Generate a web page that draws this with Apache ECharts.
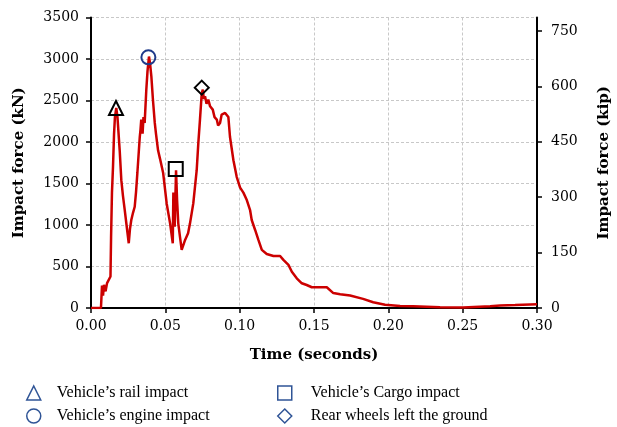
<!DOCTYPE html>
<html>
<head>
<meta charset="utf-8">
<script src="https://cdn.jsdelivr.net/npm/echarts@6/dist/echarts.min.js"></script>
<style>html,body{margin:0;padding:0;background:#fff}#c{width:617px;height:427px}</style>
</head>
<body>
<div id="c"></div>
<script>
// Time (s) and impact force (kN)
var timeS = [0,0.0067,0.0074,0.0081,0.0087,0.0098,0.0108,0.0121,0.0131,0.0135,0.0141,0.0148,0.0155,0.0161,0.0170,0.0178,0.0193,0.0204,0.0215,0.0227,0.0239,0.0254,0.0262,0.0271,0.0283,0.0294,0.0303,0.0312,0.0328,0.0333,0.0338,0.0347,0.0353,0.0361,0.0372,0.0380,0.0390,0.0397,0.0406,0.0417,0.0429,0.0437,0.0451,0.0464,0.0485,0.0509,0.0532,0.0550,0.0554,0.0563,0.0572,0.0579,0.0587,0.0599,0.0610,0.0633,0.0653,0.0666,0.0688,0.0711,0.0722,0.0733,0.0745,0.0752,0.0759,0.0767,0.0777,0.0789,0.0801,0.0819,0.0831,0.0846,0.0855,0.0868,0.0879,0.0902,0.0924,0.0935,0.0958,0.0980,0.1003,0.1025,0.1048,0.1070,0.1081,0.1104,0.1126,0.1149,0.1182,0.1227,0.1272,0.1294,0.1328,0.1351,0.1384,0.1418,0.1451,0.1485,0.1586,0.1630,0.1676,0.1743,0.1830,0.1898,0.1978,0.2079,0.2167,0.2348,0.2503,0.2685,0.2752,0.2853,0.2954,0.3000];
var forceKN = [0,0,270,150,280,200,300,320,380,850,1390,1700,2100,2300,2410,2300,1900,1540,1350,1180,1000,780,950,1060,1150,1220,1400,1630,2060,2150,2270,2100,2300,2230,2630,2850,3030,2950,2790,2500,2230,2100,1900,1800,1630,1260,1020,780,1390,980,1660,1300,1020,850,700,820,900,1020,1260,1660,1990,2270,2590,2630,2520,2550,2460,2510,2430,2390,2300,2270,2200,2230,2330,2350,2300,2060,1780,1580,1450,1390,1300,1180,1060,940,820,700,650,627,627,580,520,437,358,298,277,250,250,180,165,150,110,70,40,25,22,10,5,20,30,35,42,45];

// Event markers
var eventNames = ["Vehicle\u2019s rail impact","Vehicle\u2019s engine impact","Vehicle\u2019s Cargo impact","Rear wheels left the ground"];
var eventTimes = [0.0168,0.0386,0.0570,0.0745];
var eventForces = [2410,3020,1675,2655];
var eventSymbols = ["triangle","circle","rect","diamond"];
var eventColors = ["#000000","#1F3A8A","#000000","#000000"];

var xTicks = [0,0.05,0.10,0.15,0.20,0.25,0.30];
var kipTicks = [0,150,300,450,600,750];
var KN_TO_KIP = 0.224809;

var lineData = timeS.map(function(t,i){return [t, forceKN[i]];});
var serif = "DejaVu Serif";
var legendBlue = "#2F5496";

var series = [{
  type:'line', name:'force', data: lineData, showSymbol:false, symbol:'none',
  lineStyle:{color:'#CC0000', width:2.5}, z:2, animation:false
}];
eventNames.forEach(function(n,i){
  series.push({
    type:'scatter', name:n, data:[[eventTimes[i], eventForces[i]]],
    symbol: eventSymbols[i], symbolSize: 14,
    itemStyle:{color:'rgba(0,0,0,0)', borderColor: eventColors[i], borderWidth: 2, opacity:1},
    z:5, animation:false
  });
});

function legendItem(i){
  return {name:eventNames[i], icon:eventSymbols[i],
    itemStyle:{color:'rgba(0,0,0,0)', borderColor:legendBlue, borderWidth:1.5}};
}
function legendText(pad){
  return {fontFamily:'Liberation Serif', fontSize:16, lineHeight:18, color:'#000', padding:[0,0,0,pad]};
}

var chart = echarts.init(document.getElementById('c'), null, {renderer:'canvas'});
chart.setOption({
  animation:false,
  grid:{left:91, right:80, top:17.5, bottom:119, containLabel:false, outerBoundsMode:'none'},
  legend:[
    {orient:'vertical', left:21, top:379, height:60, itemWidth:14, itemHeight:14, itemGap:5,
     selectedMode:false, textStyle:legendText(11), data:[legendItem(0), legendItem(1)]},
    {orient:'vertical', left:272, top:379, height:60, itemWidth:14, itemHeight:14, itemGap:5,
     selectedMode:false, textStyle:legendText(14), data:[legendItem(2), legendItem(3)]}
  ],
  xAxis:{
    type:'value', min:0, max:0.3, interval:0.05,
    name:'Time (seconds)', nameLocation:'middle', nameGap:40,
    nameTextStyle:{fontFamily:serif, fontWeight:'bold', fontSize:15, color:'#000'},
    axisLine:{show:true, lineStyle:{color:'#000', width:2}},
    axisTick:{show:true, length:5, lineStyle:{color:'#000', width:1.5}},
    axisLabel:{margin:11, fontFamily:serif, fontSize:14, color:'#000',
      formatter:function(v){return v.toFixed(2);}},
    splitLine:{show:true, lineStyle:{color:'#C8C8C8', type:[3,2], width:1}}
  },
  yAxis:[{
    type:'value', min:0, max:3500, interval:500, position:'left',
    name:'Impact force (kN)', nameLocation:'middle', nameGap:64, nameRotate:90,
    nameTextStyle:{fontFamily:serif, fontWeight:'bold', fontSize:15, color:'#000'},
    axisLine:{show:true, lineStyle:{color:'#000', width:2}},
    axisTick:{show:true, length:5, lineStyle:{color:'#000', width:1.5}},
    axisLabel:{margin:12, fontFamily:serif, fontSize:14, color:'#000',
      formatter:function(v){return String(v);}},
    splitLine:{show:true, lineStyle:{color:'#C8C8C8', type:[3,2], width:1}}
  },{
    type:'value', min:0, max:3500*KN_TO_KIP, interval:150, position:'right',
    name:'Impact force (kip)', nameLocation:'middle', nameGap:60, nameRotate:90,
    nameTextStyle:{fontFamily:serif, fontWeight:'bold', fontSize:15, color:'#000'},
    axisLine:{show:true, lineStyle:{color:'#000', width:2}},
    axisTick:{show:true, length:5, lineStyle:{color:'#000', width:1.5}, customValues:kipTicks},
    axisLabel:{margin:14, fontFamily:serif, fontSize:14, color:'#000', customValues:kipTicks,
      formatter:function(v){return String(v);}},
    splitLine:{show:false}
  }],
  series: series
});
</script>
</body>
</html>
